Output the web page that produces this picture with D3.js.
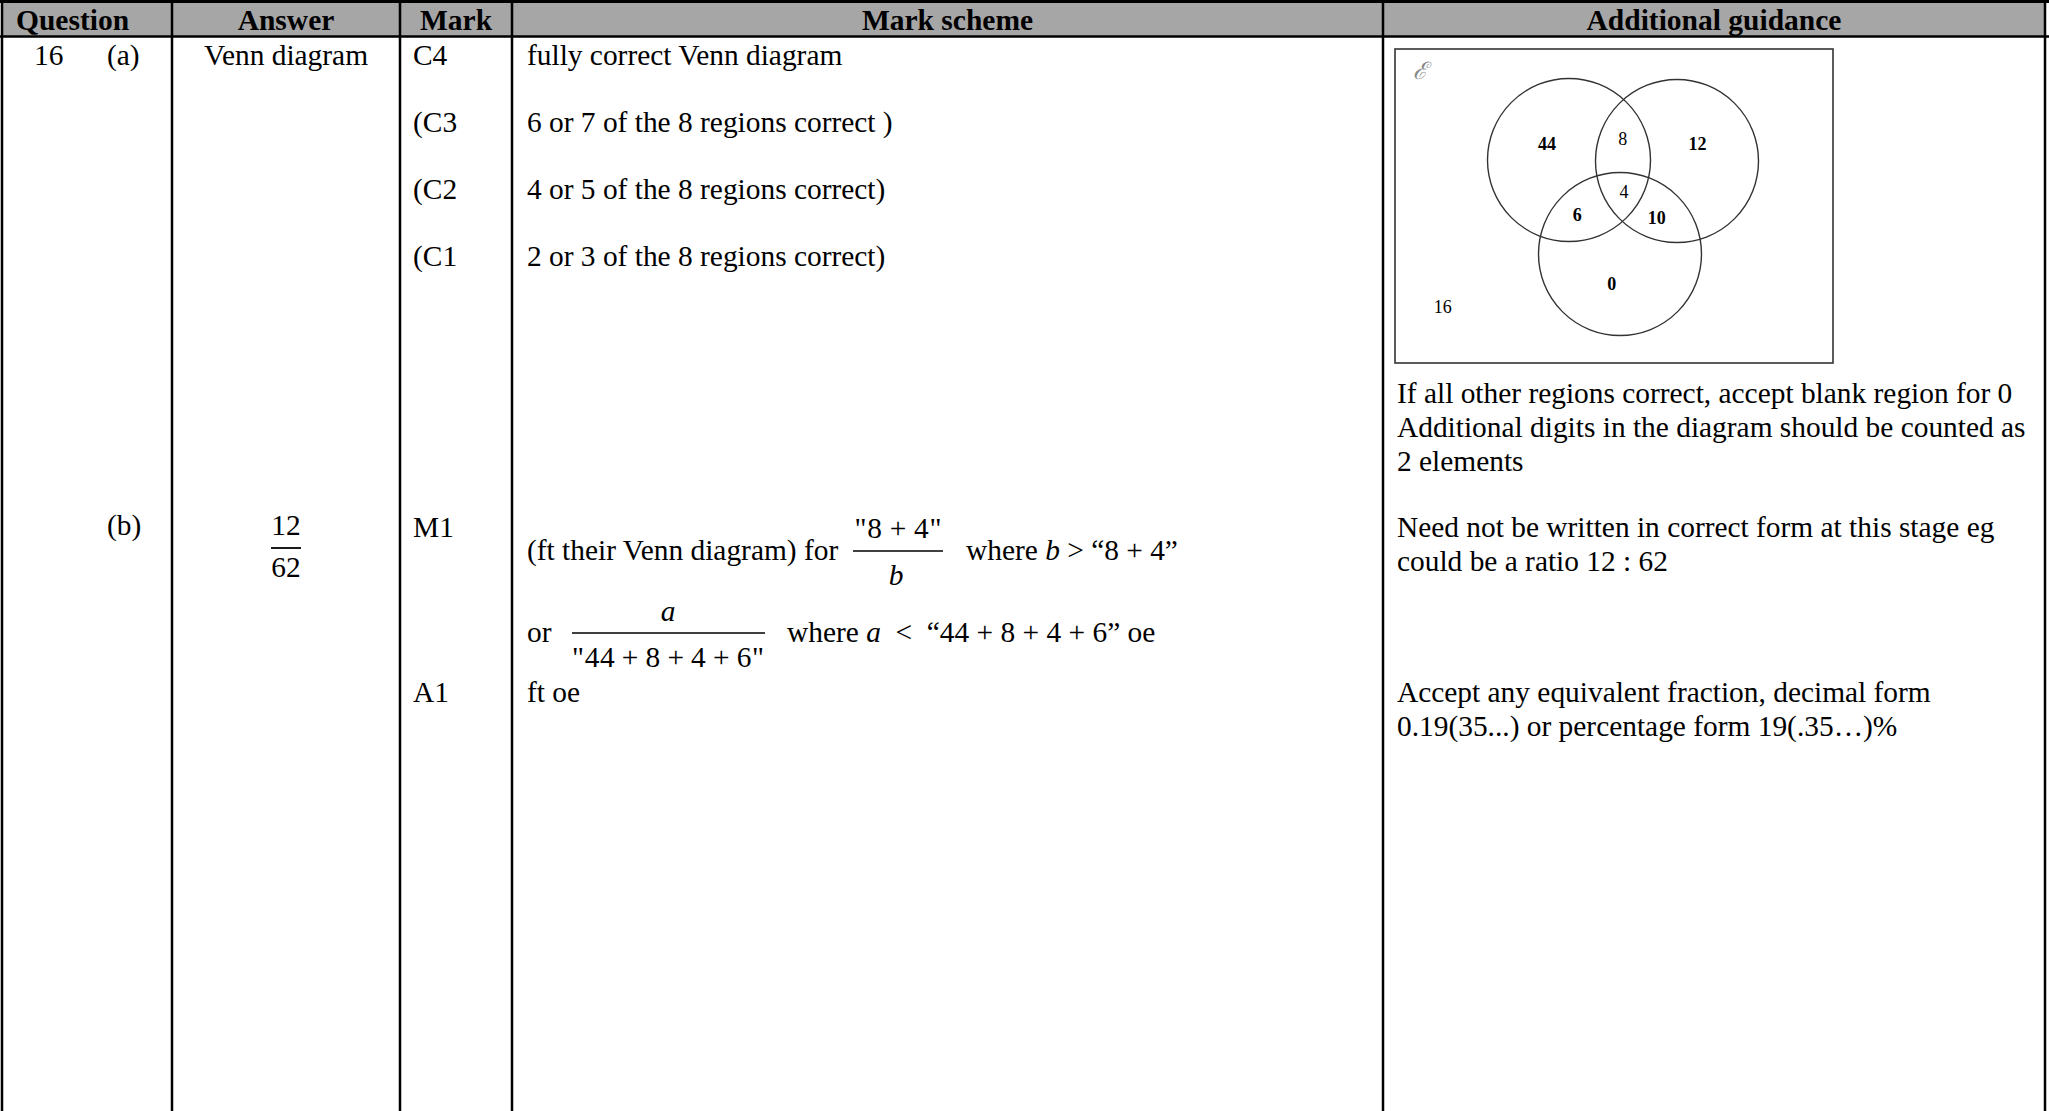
<!DOCTYPE html>
<html><head><meta charset="utf-8">
<script src="https://cdn.jsdelivr.net/npm/d3@7/dist/d3.min.js"></script>
<style>
html,body{margin:0;padding:0;background:#fff;}
svg{display:block;}
text{font-family:"Liberation Serif","Times New Roman",serif;fill:#000;}
</style></head>
<body>
<script>
// ---------- data ----------
const headers = ["Question","Answer","Mark","Mark scheme","Additional guidance"];
const questionNumber = "16";
const parts = ["(a)","(b)"];
const answerA = "Venn diagram";
const answerBNum = "12";
const answerBDen = "62";
const marksA = ["C4","(C3","(C2","(C1"];
const criteriaA = ["fully correct Venn diagram","6 or 7 of the 8 regions correct )","4 or 5 of the 8 regions correct)","2 or 3 of the 8 regions correct)"];
const marksB = ["M1","A1"];
const guidanceA = ["If all other regions correct, accept blank region for 0","Additional digits in the diagram should be counted as","2 elements"];
const guidanceB1 = ["Need not be written in correct form at this stage eg","could be a ratio 12 : 62"];
const guidanceB2 = ["Accept any equivalent fraction, decimal form","0.19(35...) or percentage form 19(.35\u2026)%"];
const vennRegions = ["A only","A\u2229B only","B only","A\u2229C only","A\u2229B\u2229C","B\u2229C only","C only","outside"];
const vennValues  = [44, 8, 12, 6, 4, 10, 0, 16];
const vennBold    = [true,false,true,true,false,true,true,false];

// ---------- layout ----------
const W = 2049, H = 1111;
const L = {
  colEdges:[2,172,400,512,1383,2045],
  headTop:2, headBottom:36, headBase:30,
  fs:29.4, hfs:29.5,
  rowA:65, lineStepA:67,
  rowB:537, rowB2:702,
  box:{x0:1395,y0:49,x1:1833,y1:363},
  circles:[{cx:1569,cy:160},{cx:1677,cy:161},{cx:1620,cy:254}], r:81.5,
};
// label positions relative to circles: [circleIndex, dx/r, dy/r]
const vennLabelAnchors = [[0,-0.27,-0.2],[0,0.66,-0.26],[1,0.25,-0.21],[0,0.1,0.67],[2,0.05,-0.77],[2,0.45,-0.45],[2,-0.1,0.37],[0,-1.55,1.8]];

const svg = d3.select("body").append("svg").attr("width",W).attr("height",H);
const xCol = d3.scaleOrdinal().domain(headers).range(L.colEdges.slice(0,5));
const xColEnd = d3.scaleOrdinal().domain(headers).range(L.colEdges.slice(1));

// header band
svg.append("rect").attr("x",L.colEdges[0]).attr("y",L.headTop)
  .attr("width",L.colEdges[5]-L.colEdges[0]).attr("height",L.headBottom-L.headTop)
  .attr("fill","#a6a6a6");

// header text
svg.selectAll("text.h").data(headers).join("text").attr("class","h")
  .attr("x",(d,i)=> i===0 ? 16 : (xCol(d)+xColEnd(d))/2)
  .attr("y",L.headBase)
  .attr("text-anchor",(d,i)=> i===0?"start":"middle")
  .attr("font-weight","bold").attr("font-size",L.hfs)
  .text(d=>d);

// grid lines
const g = svg.append("g").attr("stroke","#000");
g.append("line").attr("x1",0).attr("x2",W).attr("y1",1.5).attr("y2",1.5).attr("stroke-width",3);
g.append("line").attr("x1",0).attr("x2",W).attr("y1",36.5).attr("y2",36.5).attr("stroke-width",2.5);
g.selectAll("line.v").data(L.colEdges).join("line").attr("class","v")
  .attr("x1",d=>d).attr("x2",d=>d).attr("y1",0).attr("y2",H).attr("stroke-width",2.5);

const fs = L.fs;
function txt(x,y,s,anchor){
  return svg.append("text").attr("x",x).attr("y",y).attr("font-size",fs)
    .attr("text-anchor",anchor||"start").text(s);
}
// question column
txt(34,L.rowA,questionNumber);
txt(107,L.rowB-2,parts[1]);
txt(107,L.rowA,parts[0]);

// answer column
const ansMid = (xCol("Answer")+xColEnd("Answer"))/2;
txt(ansMid,L.rowA,answerA,"middle");
txt(ansMid,535,answerBNum,"middle");
svg.append("line").attr("x1",ansMid-15).attr("x2",ansMid+15).attr("y1",548).attr("y2",548)
  .attr("stroke","#000").attr("stroke-width",1.8);
txt(ansMid,577,answerBDen,"middle");

// mark column + scheme (a)
const yA = d3.scaleLinear().domain([0,1]).range([L.rowA,L.rowA+L.lineStepA]);
svg.selectAll("text.ma").data(marksA).join("text").attr("class","ma")
  .attr("x",413).attr("y",(d,i)=>yA(i)).attr("font-size",fs).text(d=>d);
svg.selectAll("text.ca").data(criteriaA).join("text").attr("class","ca")
  .attr("x",527).attr("y",(d,i)=>yA(i)).attr("font-size",fs).text(d=>d);

// (b) marks
txt(413,L.rowB,marksB[0]);
txt(413,L.rowB2,marksB[1]);

// (b) scheme line 1
txt(527,560,"(ft their Venn diagram) for");
svg.append("text").attr("x",898).attr("y",538).attr("font-size",fs).attr("text-anchor","middle")
  .attr("textLength",87).attr("lengthAdjust","spacing").text('"8\u2009+\u20094"');
svg.append("line").attr("x1",853).attr("x2",943).attr("y1",551).attr("y2",551).attr("stroke","#000").attr("stroke-width",1.6);
svg.append("text").attr("x",896).attr("y",585).attr("font-size",fs).attr("font-style","italic").attr("text-anchor","middle").text("b");
const w1 = svg.append("text").attr("x",966).attr("y",560).attr("font-size",fs);
w1.append("tspan").text("where\u00a0");
w1.append("tspan").attr("font-style","italic").text("b");
w1.append("tspan").text("\u00a0>\u00a0\u201c8 + 4\u201d");

// (b) scheme line 2
txt(527,642,"or");
svg.append("text").attr("x",668).attr("y",621).attr("font-size",fs).attr("font-style","italic").attr("text-anchor","middle").text("a");
svg.append("line").attr("x1",572).attr("x2",765).attr("y1",633).attr("y2",633).attr("stroke","#000").attr("stroke-width",1.6);
svg.append("text").attr("x",668).attr("y",667).attr("font-size",fs).attr("text-anchor","middle")
  .attr("textLength",192).attr("lengthAdjust","spacing").text('"44\u2009+\u20098\u2009+\u20094\u2009+\u20096"');
const w2 = svg.append("text").attr("x",787).attr("y",642).attr("font-size",fs);
w2.append("tspan").text("where\u00a0");
w2.append("tspan").attr("font-style","italic").text("a");
w2.append("tspan").text("\u00a0\u00a0<\u00a0\u00a0\u201c44 + 8 + 4 + 6\u201d oe");

txt(527,L.rowB2,"ft oe");

// guidance
function lines(arr,y0){
  arr.forEach((s,i)=>txt(1397,y0+i*34,s));
}
lines(guidanceA,403);
lines(guidanceB1,537);
lines(guidanceB2,702);

// ---------- Venn diagram ----------
const vb = L.box;
svg.append("rect").attr("x",vb.x0).attr("y",vb.y0).attr("width",vb.x1-vb.x0).attr("height",vb.y1-vb.y0)
  .attr("fill","#fff").attr("stroke","#333").attr("stroke-width",1.6);
svg.append("text").attr("x",1420).attr("y",79).attr("font-size",24).attr("text-anchor","middle")
  .attr("font-style","italic").style("fill","#888").text("\u2130");
svg.selectAll("circle.v").data(L.circles).join("circle").attr("class","v")
  .attr("cx",d=>d.cx).attr("cy",d=>d.cy).attr("r",L.r)
  .attr("fill","none").attr("stroke","#333").attr("stroke-width",1.4);
svg.selectAll("text.vl").data(vennValues).join("text").attr("class","vl")
  .attr("x",(d,i)=>{const a=vennLabelAnchors[i];return L.circles[a[0]].cx+a[1]*L.r;})
  .attr("y",(d,i)=>{const a=vennLabelAnchors[i];return L.circles[a[0]].cy+a[2]*L.r;})
  .attr("dy","0.35em").attr("text-anchor","middle").attr("font-size",18)
  .attr("font-weight",(d,i)=>vennBold[i]?"bold":"normal")
  .text(d=>d);
</script>
</body></html>
